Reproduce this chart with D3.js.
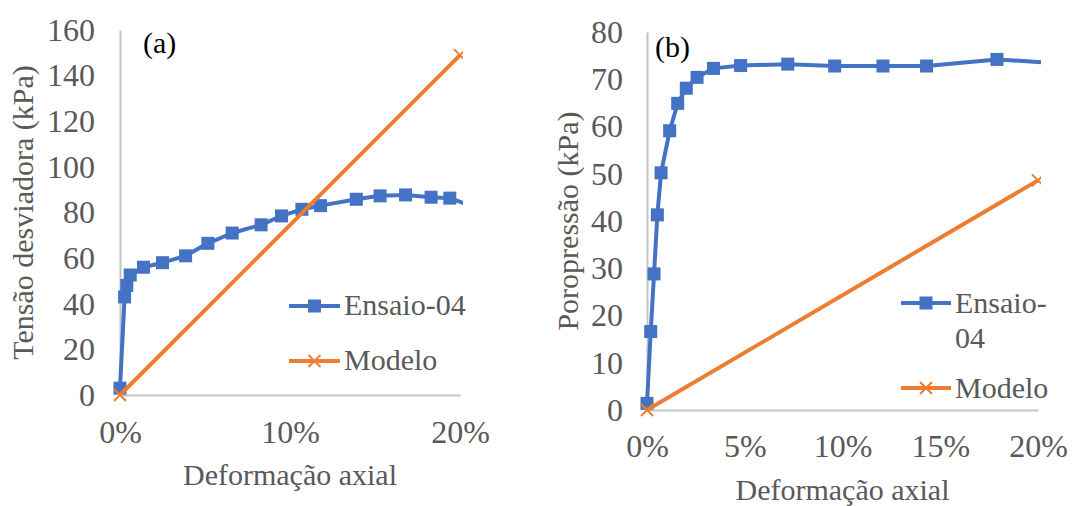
<!DOCTYPE html>
<html>
<head>
<meta charset="utf-8">
<script src="https://cdn.jsdelivr.net/npm/d3@7"></script>
<style>
  html, body { margin: 0; padding: 0; background: #fff; }
  svg { display: block; font-family: "Liberation Serif", "Times New Roman", serif; }
</style>
</head>
<body>
<svg id="chart" width="1090" height="506"></svg>
<script>
// Ensaio-04: tensão desviadora vs deformação axial
const strainA = [0, 0.0027, 0.004, 0.006, 0.0138, 0.025, 0.0386, 0.0517, 0.066, 0.083, 0.095, 0.107, 0.118, 0.139, 0.153, 0.168, 0.183, 0.194, 0.21];
const stressA = [3, 43, 48, 52.6, 56, 58, 61, 66.5, 71, 74.6, 78.5, 81.4, 83, 85.8, 87.3, 87.7, 86.7, 86.3, 82];
// Ensaio-04: poropressão vs deformação axial
const strainB = [0, 0.0019, 0.0036, 0.0053, 0.0072, 0.0116, 0.0157, 0.0201, 0.0256, 0.034, 0.0479, 0.072, 0.096, 0.1207, 0.143, 0.179, 0.21];
const poreB = [1.4, 16.6, 28.8, 41.3, 50.2, 59.1, 64.9, 68.1, 70.4, 72.3, 72.9, 73.2, 72.8, 72.8, 72.8, 74.2, 73.4];
// Modelo (linear)
const modelStrain = [0, 0.2];
const modelA = [0, 149];
const modelB = [0, 48.6];

const ticksXA = [0, 0.1, 0.2];
const ticksYA = [0, 20, 40, 60, 80, 100, 120, 140, 160];
const ticksXB = [0, 0.05, 0.1, 0.15, 0.2];
const ticksYB = [0, 10, 20, 30, 40, 50, 60, 70, 80];

const BLUE = "#4472C4", ORANGE = "#ED7D31", TXT = "#595959", AXIS = "#c4c4c4";
const svg = d3.select("#chart");

function panel(cfg) {
  const g = svg.append("g");
  const x = d3.scaleLinear().domain([0, 0.2]).range(cfg.xr);
  const y = d3.scaleLinear().domain(cfg.yd).range(cfg.yr);

  const ax = g.append("g").attr("transform", `translate(0,${cfg.yr[0]})`)
    .call(d3.axisBottom(x).tickValues(cfg.tx).tickFormat(d3.format(".0%")).tickSize(0).tickSizeOuter(0).tickPadding(cfg.xpad));
  const ay = g.append("g").attr("transform", `translate(${cfg.xr[0]},0)`)
    .call(d3.axisLeft(y).tickValues(cfg.ty).tickSize(0).tickSizeOuter(0).tickPadding(cfg.ypad));
  [ax, ay].forEach(a => {
    a.select(".domain").attr("stroke", AXIS).attr("stroke-width", 2);
    a.selectAll("text").attr("fill", TXT).style("font-size", "32px").style("font-family", "Liberation Serif");
  });

  const clipId = "clip" + cfg.id;
  g.append("clipPath").attr("id", clipId).append("rect")
    .attr("x", cfg.xr[0] - 20).attr("y", 0)
    .attr("width", cfg.xr[1] - cfg.xr[0] + 23).attr("height", 506);
  const plot = g.append("g").attr("clip-path", `url(#${clipId})`);

  const line = d3.line().x(d => x(d[0])).y(d => y(d[1]));
  const blue = cfg.bx.map((v, i) => [v, cfg.by[i]]);
  const model = modelStrain.map((v, i) => [v, cfg.my[i]]);

  plot.append("path").datum(blue).attr("d", line)
    .attr("fill", "none").attr("stroke", BLUE).attr("stroke-width", 4).attr("stroke-linejoin", "round");
  plot.selectAll(".sq").data(blue).join("rect")
    .attr("x", d => x(d[0]) - 6.5).attr("y", d => y(d[1]) - 6.5)
    .attr("width", 13).attr("height", 13).attr("fill", BLUE);

  plot.append("path").datum(model).attr("d", line)
    .attr("fill", "none").attr("stroke", ORANGE).attr("stroke-width", 4);
  const cross = s => `M${-s},${-s}L${s},${s}M${-s},${s}L${s},${-s}`;
  plot.selectAll(".xm").data(model).join("path")
    .attr("transform", d => `translate(${x(d[0])},${y(d[1])})`)
    .attr("d", cross(6)).attr("stroke", ORANGE).attr("stroke-width", 2).attr("fill", "none");

  // legend
  const L = cfg.leg;
  g.append("line").attr("x1", L.x0).attr("x2", L.x1).attr("y1", L.y1).attr("y2", L.y1)
    .attr("stroke", BLUE).attr("stroke-width", 4);
  g.append("rect").attr("x", (L.x0 + L.x1) / 2 - 6.5).attr("y", L.y1 - 6.5)
    .attr("width", 13).attr("height", 13).attr("fill", BLUE);
  g.append("line").attr("x1", L.x0).attr("x2", L.x1).attr("y1", L.y2).attr("y2", L.y2)
    .attr("stroke", ORANGE).attr("stroke-width", 4);
  g.append("path").attr("transform", `translate(${(L.x0 + L.x1) / 2},${L.y2})`)
    .attr("d", cross(6)).attr("stroke", ORANGE).attr("stroke-width", 2).attr("fill", "none");
  L.lines.forEach(t => {
    g.append("text").attr("x", L.tx).attr("y", t.y).attr("fill", TXT)
      .style("font-size", "30px").text(t.s);
  });

  // titles
  g.append("text").attr("x", (cfg.xr[0] + cfg.xr[1]) / 2).attr("y", cfg.xtY)
    .attr("text-anchor", "middle").attr("fill", TXT).style("font-size", "30px").text("Deformação axial");
  g.append("text").attr("transform", `translate(${cfg.ytX},${(cfg.yr[0] + cfg.yr[1]) / 2}) rotate(-90)`)
    .attr("text-anchor", "middle").attr("fill", TXT).style("font-size", "30px").text(cfg.ytitle);
  g.append("text").attr("x", cfg.tag.x).attr("y", cfg.tag.y).attr("fill", "#000")
    .style("font-size", "30px").text(cfg.tag.s);
}

panel({
  id: "a", xr: [120, 460], yr: [395, 30], yd: [0, 160], tx: ticksXA, ty: ticksYA,
  xpad: 25, ypad: 25, bx: strainA, by: stressA, my: modelA,
  leg: { x0: 289, x1: 340, y1: 306, y2: 361, tx: 344, lines: [{ s: "Ensaio-04", y: 315 }, { s: "Modelo", y: 370 }] },
  xtY: 485, ytX: 33, ytitle: "Tensão desviadora (kPa)", tag: { s: "(a)", x: 143, y: 53 }
});
panel({
  id: "b", xr: [647, 1038], yr: [410, 32], yd: [0, 80], tx: ticksXB, ty: ticksYB,
  xpad: 24, ypad: 24, bx: strainB, by: poreB, my: modelB,
  leg: { x0: 901, x1: 951, y1: 303, y2: 388, tx: 955, lines: [{ s: "Ensaio-", y: 313 }, { s: "04", y: 348 }, { s: "Modelo", y: 398 }] },
  xtY: 500, ytX: 578, ytitle: "Poropressão (kPa)", tag: { s: "(b)", x: 655, y: 57 }
});
</script>
</body>
</html>
